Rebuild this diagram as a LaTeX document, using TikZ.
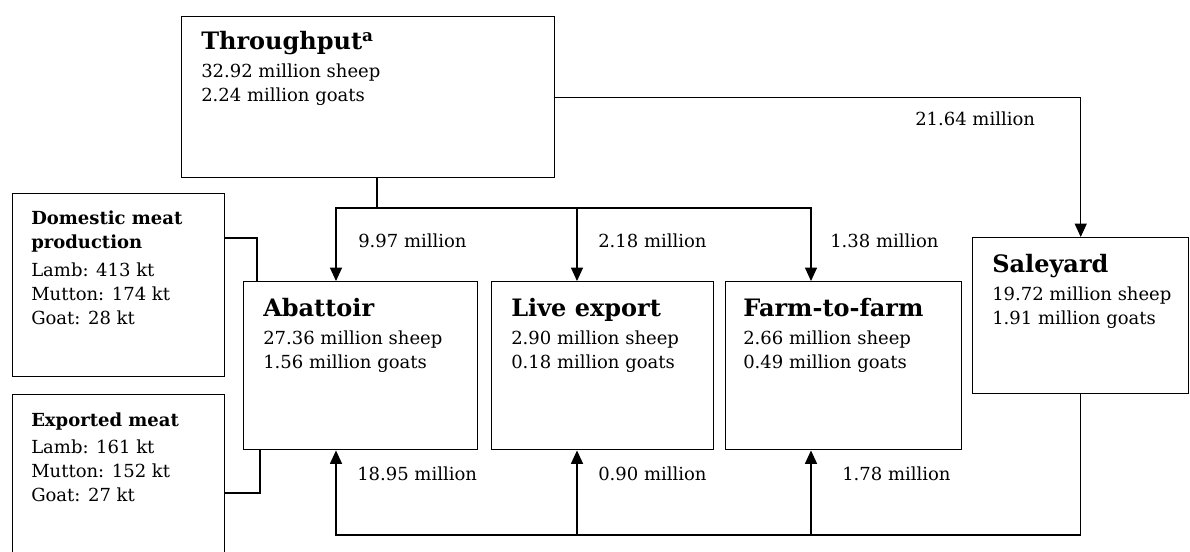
\documentclass[tikz,border=0pt]{standalone}
\usepackage{fontspec}
\setmainfont{DejaVu Serif}
\usetikzlibrary{arrows.meta}
\newcommand{\bodysz}{\fontsize{13.5}{18}\selectfont}
\newcommand{\headsz}{\fontsize{18}{22}\selectfont\bfseries}

\begin{document}
\begin{tikzpicture}[
  x=0.75pt, y=-0.75pt,
  font=\bodysz,
  box/.style={draw,line width=1.1pt,inner sep=0pt,anchor=north west},
  title/.style={anchor=base west,inner sep=0pt,font=\headsz},
  body/.style={anchor=base west,inner sep=0pt,align=left},
  qty/.style={anchor=base west,inner sep=0pt},
  link/.style={line width=0.8pt},
  flow/.style={-{Triangle[length=10pt,width=9pt]},line width=0.8pt},
]
  \useasboundingbox (0,0) rectangle (1190,552);
  % ---------------- boxes ----------------
  \node[box,minimum width=279.75pt,minimum height=120.75pt] (thru) at (181,16) {};
  \node[box,minimum width=159pt,minimum height=137.25pt] (dom) at (12,193) {};
  \node[box,minimum width=159pt,minimum height=127.5pt] (expo) at (12,394) {};
  \node[box,minimum width=175.5pt,minimum height=126pt] (abat) at (243,281) {};
  \node[box,minimum width=166.5pt,minimum height=126pt] (live) at (491,281) {};
  \node[box,minimum width=177pt,minimum height=126pt] (farm) at (725,281) {};
  \node[box,minimum width=162pt,minimum height=117pt] (sale) at (972,237) {};
  % ---------------- texts ----------------
  % body nodes sit on the baseline of their last line
  \node[title] (thrut) at (201,50) {Throughput\textsuperscript{a}};
  \node[body] (thrub) at (201,102) {32.92 million sheep\\2.24 million goats};
  \node[title] (abatt) at (263,317) {Abattoir};
  \node[body] (abatb) at (263,369) {27.36 million sheep\\1.56 million goats};
  \node[title] (livet) at (511,317) {Live export};
  \node[body] (liveb) at (511,369) {2.90 million sheep\\0.18 million goats};
  \node[title] (farmt) at (743,317) {Farm-to-farm};
  \node[body] (farmb) at (743,369) {2.66 million sheep\\0.49 million goats};
  \node[title] (salet) at (992,273) {Saleyard};
  \node[body] (saleb) at (992,325) {19.72 million sheep\\1.91 million goats};
  \node[body] (domb) at (31,325) {\textbf{Domestic meat}\\\textbf{production}\\[3.5pt]
    Lamb: 413 kt\\Mutton: 174 kt\\Goat: 28 kt};
  \node[body] (expob) at (31,502) {\textbf{Exported meat}\\[3pt]
    Lamb: 161 kt\\Mutton: 152 kt\\Goat: 27 kt};
  % ---------------- flows ----------------
  \coordinate (split) at (377,208);
  \coordinate (ca) at (336,208);
  \coordinate (cl) at (577,208);
  \coordinate (cf) at (811,208);
  \coordinate (ba) at (336,535);
  \draw[link] (thru.south -| split) -- (split);
  \draw[flow] (split) -- (ca) -- (abat.north -| ca);
  \draw[flow] (split) -- (cf) -- (farm.north -| cf);
  \draw[flow] (cl) -- (live.north -| cl);
  \draw[flow] (thru.east) -| (sale.north);
  \draw[flow] (sale.south) |- (ba) -- (abat.south -| ba);
  \draw[flow] (ba -| cl) -- (live.south -| cl);
  \draw[flow] (ba -| cf) -- (farm.south -| cf);
  % meat links
  \coordinate (dm) at (257,238);
  \coordinate (em) at (260,493);
  \draw[link] (dm -| dom.east) -| (abat.north -| dm);
  \draw[link] (em -| expo.east) -| (abat.south -| em);
  % ---------------- quantities ----------------
  \node[qty] (q1) at (358,248) {9.97 million};
  \node[qty] (q2) at (598,248) {2.18 million};
  \node[qty] (q3) at (830,248) {1.38 million};
  \node[qty] (q4) at (915,126) {21.64 million};
  \node[qty] (q5) at (357,481) {18.95 million};
  \node[qty] (q6) at (598,481) {0.90 million};
  \node[qty] (q7) at (842,480) {1.78 million};
\end{tikzpicture}
\end{document}
